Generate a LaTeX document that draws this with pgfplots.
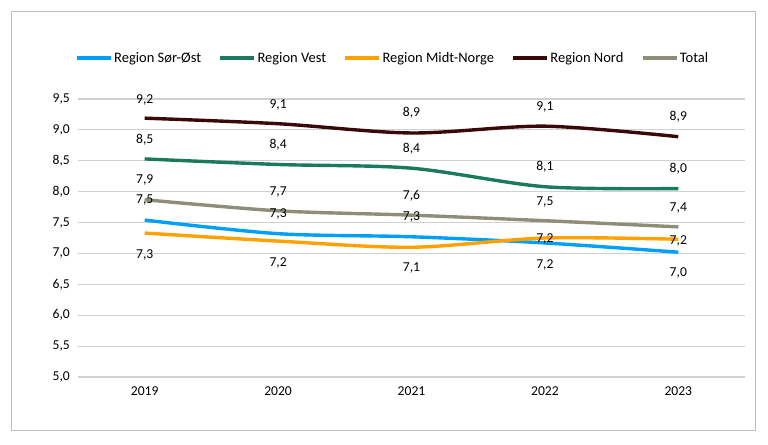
\documentclass[border=0pt]{standalone}
\usepackage{pgfplots}
\usepackage{pgfplotstable}
\pgfplotsset{compat=1.18}
\usepackage{fontspec}
\setmainfont{Carlito}
\definecolor{cSO}{HTML}{00A0F8}
\definecolor{cVest}{HTML}{1A7A5E}
\definecolor{cMidt}{HTML}{FFA200}
\definecolor{cNord}{HTML}{3A0808}
\definecolor{cTot}{HTML}{8E8E78}
\definecolor{gridc}{HTML}{D0D0D0}
\pgfplotstableread{
x y lab
0 9.48 {9,2}
0 8.84 {8,5}
0 8.19 {7,9}
0 7.87 {7,5}
0 6.98 {7,3}
1 9.40 {9,1}
1 8.76 {8,4}
1 8.00 {7,7}
1 7.64 {7,3}
1 6.85 {7,2}
2 9.27 {8,9}
2 8.69 {8,4}
2 7.93 {7,6}
2 7.59 {7,3}
2 6.77 {7,1}
3 9.37 {9,1}
3 8.40 {8,1}
3 7.83 {7,5}
3 7.23 {7,2}
3 6.81 {7,2}
4 9.21 {8,9}
4 8.37 {8,0}
4 7.74 {7,4}
4 7.20 {7,2}
4 6.68 {7,0}
}\labels
\newcommand{\cf}{\fontsize{13.6bp}{16bp}\selectfont}
\newcommand{\lf}{\fontsize{14.5bp}{17bp}\selectfont}
\begin{document}
\begin{tikzpicture}
\begin{axis}[
  at={(0,0)}, anchor=south west,
  scale only axis, width=667bp, height=278bp,
  xmin=-0.5, xmax=4.5, ymin=5, ymax=9.5,
  xtick={0,1,2,3,4}, xticklabels={2019,2020,2021,2022,2023},
  ytick={5,5.5,6,6.5,7,7.5,8,8.5,9,9.5},
  axis line style={draw=none}, major tick length=0pt,
  ymajorgrids, grid style={gridc, line width=1.2bp},
  /pgf/number format/.cd, assume math mode=true, use comma, fixed, fixed zerofill, precision=1,
  /pgfplots/.cd,
  yticklabel style={font=\cf, inner sep=0pt, anchor=east, xshift=-8bp},
  xticklabel style={font=\cf, inner sep=0pt, anchor=north, yshift=-9bp},
  legend columns=5,
  legend style={draw=none, fill=none, inner sep=0pt, outer sep=0pt, at={(-0.004,1.1475)}, anchor=west, font=\lf,
    nodes={inner sep=1.5bp},
    /tikz/every even column/.append style={column sep=16bp}},
  legend image code/.code={\draw[#1] (0bp,0bp) -- (34bp,0bp);},
  every axis plot/.append style={line width=3.4bp, smooth, tension=0.5},
]
\addplot[cSO] coordinates {(0,7.54) (1,7.32) (2,7.27) (3,7.17) (4,7.02)};
\addlegendentry{Region Sør-Øst}
\addplot[cVest] coordinates {(0,8.53) (1,8.44) (2,8.38) (3,8.08) (4,8.05)};
\addlegendentry{Region Vest}
\addplot[cMidt] coordinates {(0,7.33) (1,7.20) (2,7.10) (3,7.25) (4,7.23)};
\addlegendentry{Region Midt-Norge}
\addplot[cNord] coordinates {(0,9.19) (1,9.10) (2,8.95) (3,9.06) (4,8.89)};
\addlegendentry{Region Nord}
\addplot[cTot] coordinates {(0,7.87) (1,7.69) (2,7.62) (3,7.53) (4,7.43)};
\addlegendentry{Total}
\addplot[forget plot, only marks, mark=*, mark size=0pt, mark options={draw=none, fill=none},
  point meta=explicit symbolic, nodes near coords,
  nodes near coords style={anchor=center, font=\cf, text=black, inner sep=0pt}]
  table[x=x, y=y, meta=lab] {\labels};
\end{axis}
\pgfresetboundingbox
\useasboundingbox (-78bp,-68bp) rectangle (690bp,377bp);
\draw[color=gray!50, line width=1bp] (-66bp,-53bp) rectangle (677bp,365bp);
\end{tikzpicture}
\end{document}
